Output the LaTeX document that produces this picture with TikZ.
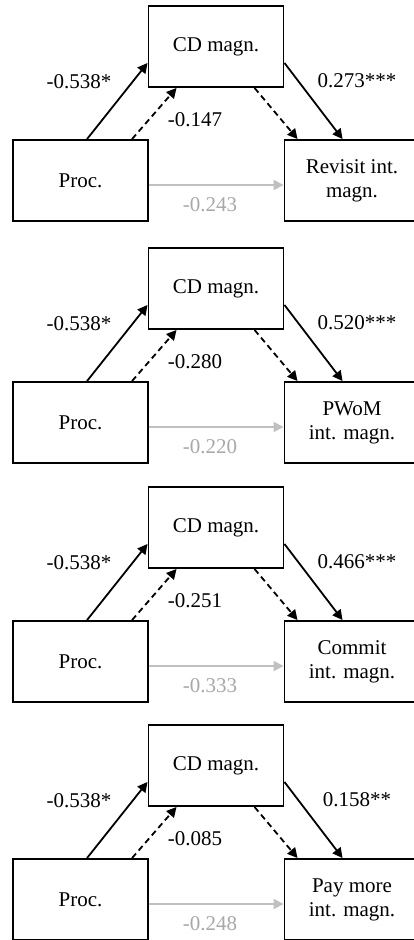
\documentclass[tikz,border=0pt]{standalone}
\usepackage{fontspec}
\setmainfont{Liberation Serif}
\usetikzlibrary{arrows.meta}
\definecolor{grarrow}{HTML}{C0C0C0}
\definecolor{grtext}{HTML}{A8A8A8}
\tikzset{
  box/.style={draw, line width=1.9pt, minimum width=135pt, minimum height=81pt,
    inner sep=0pt, align=center, font=\fontsize{21}{24}\selectfont},
  lbl/.style={font=\fontsize{21}{24}\selectfont, inner sep=0pt},
  graylbl/.style={lbl, text=grtext},
  arr/.style={line width=1.8pt, -{Triangle[length=10pt,width=10pt]}},
  darr/.style={arr, dash pattern=on 6pt off 4pt},
  garr/.style={arr, draw=grarrow, fill=grarrow}
}
\newcommand\mypanel[7]{%
\begin{scope}[yshift=-#2pt]
  \node[box] (c#1) at (216,40.5) {CD magn.};
  \node[box] (p#1) at (80.5,174.5) {Proc.};
  \node[box] (t#1) at (352,174.5) {#7};
  \draw[arr] ([xshift=75pt]p#1.north west) -- ([yshift=25pt]c#1.south west);
  \draw[darr] ([xshift=120pt]p#1.north west) -- ([xshift=29pt]c#1.south west);
  \draw[darr] ([xshift=107pt]c#1.south west) -- ([xshift=14pt]t#1.north west);
  \draw[arr] ([yshift=25pt]c#1.south east) -- ([xshift=59pt]t#1.north west);
  \draw[garr] ([yshift=-4.5pt]p#1.east) -- ([yshift=-4.5pt]t#1.west);
  \node[lbl] (la#1) at (79,76) {#3};
  \node[lbl] (lc#1) at (195,114) {#4};
  \node[lbl] (lb#1) at (357,75) {#5};
  \node[graylbl] (ld#1) at (210,199) {#6};
\end{scope}}
\begin{document}
\begin{tikzpicture}[x=1pt,y=-1pt]
\useasboundingbox (0,0) rectangle (414,940);
\mypanel{a}{6}{-0.538*}{-0.147}{0.273***}{-0.243}{Revisit int.\\magn.}
\mypanel{b}{248}{-0.538*}{-0.280}{0.520***}{-0.220}{PWoM\\int. magn.}
\mypanel{c}{487}{-0.538*}{-0.251}{0.466***}{-0.333}{Commit\\int. magn.}
\mypanel{d}{725}{-0.538*}{-0.085}{0.158**}{-0.248}{Pay more\\int. magn.}
\end{tikzpicture}
\end{document}
